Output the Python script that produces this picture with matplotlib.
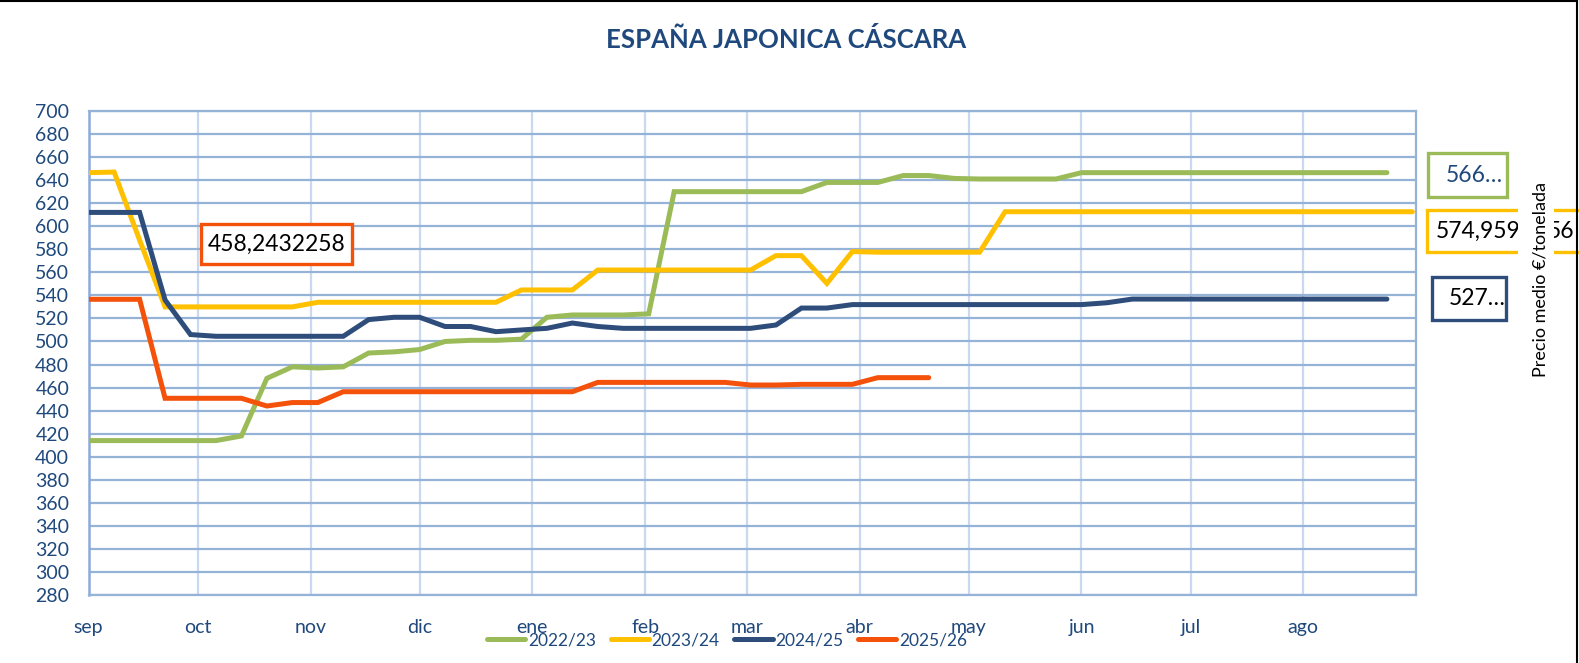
import matplotlib
matplotlib.use("Agg")
import matplotlib.pyplot as plt
import matplotlib.patches as mpatches
from matplotlib.lines import Line2D
import pandas as pd

# ---------------- data ----------------
title = "ESPAÑA JAPONICA CÁSCARA"
ylabel = "Precio medio €/tonelada"
series_names = ["2022/23", "2023/24", "2024/25", "2025/26"]
month_labels = ["sep", "oct", "nov", "dic", "ene", "feb", "mar", "abr", "may", "jun", "jul", "ago"]

v_2022_23 = [414, 414, 414, 414, 414, 414, 418, 468, 478, 477, 478, 490, 491, 493, 500, 501,
             501, 502, 521, 523, 523, 523, 524, 630, 630, 630, 630, 630, 630, 638, 638, 638,
             644, 644, 641.5, 641, 641, 641, 641, 646.5, 646.5, 646.5, 646.5, 646.5, 646.5,
             646.5, 646.5, 646.5, 646.5, 646.5, 646.5, 646.5]
v_2023_24 = [646.5, 647, 588, 530, 530, 530, 530, 530, 530, 534, 534, 534, 534, 534, 534, 534,
             534, 544.7, 544.7, 544.7, 562, 562, 562, 562, 562, 562, 562, 574.5, 574.5, 550.4,
             578, 577.5, 577.5, 577.5, 577.5, 577.5, 612.6, 612.6, 612.6, 612.6, 612.6, 612.6,
             612.6, 612.6, 612.6, 612.6, 612.6, 612.6, 612.6, 612.6, 612.6, 612.6, 612.6]
v_2024_25 = [612, 612, 612, 536, 506, 504.5, 504.5, 504.5, 504.5, 504.5, 504.5, 519, 521, 521,
             513, 513, 508.5, 510, 511.4, 516, 513, 511.4, 511.4, 511.4, 511.4, 511.4, 511.4,
             514.3, 529, 529, 532, 532, 532, 532, 532, 532, 532, 532, 532, 532, 533.6, 536.8,
             536.8, 536.8, 536.8, 536.8, 536.8, 536.8, 536.8, 536.8, 536.8, 536.8]
v_2025_26 = [536.6, 536.6, 536.6, 450.7, 450.7, 450.7, 450.7, 444, 447, 447, 456.4, 456.4,
             456.4, 456.4, 456.4, 456.4, 456.4, 456.4, 456.4, 456.4, 464.5, 464.5, 464.5, 464.5,
             464.5, 464.5, 462.2, 462.2, 462.8, 462.8, 462.8, 468.6, 468.6, 468.6]

label_2025_26 = "458,2432258"
label_2022_23 = "566…"
label_2023_24_visible = "574,959"
label_2023_24_tail = "56"
label_2024_25 = "527…"

season_start = "2022-09-01"
season_end = "2023-09-01"

# ---------------- style ----------------
colors = ["#9BBB59", "#FFC000", "#2E4D7B", "#F4510B"]
txt_blue = "#1F497D"
plt.rcParams["font.family"] = ["Lato", "DejaVu Sans"]

W, H = 1579, 663
fig = plt.figure(figsize=(W / 100, H / 100), dpi=100)
ax = fig.add_axes([88.7 / W, 1 - 595 / H, (1416 - 88.7) / W, (595 - 111) / H])

start = pd.Timestamp(season_start)
all_series = [v_2022_23, v_2023_24, v_2024_25, v_2025_26]
lines = []
for vals, col, name in zip(all_series, colors, series_names):
    x = pd.date_range(start, periods=len(vals), freq="7D")
    ln, = ax.plot(x, vals, color=col, lw=3.6, solid_capstyle="round",
                  solid_joinstyle="miter", label=name, zorder=3)
    lines.append(ln)

ax.set_xlim(pd.Timestamp(season_start), pd.Timestamp(season_end))
ax.set_ylim(280, 700)
ax.set_yticks(range(280, 701, 20))
month_starts = pd.date_range(season_start, periods=len(month_labels), freq="MS")
ax.set_xticks(month_starts)
ax.set_xticklabels(month_labels)

ax.tick_params(axis="y", length=0, pad=14, labelsize=14, labelcolor=txt_blue)
ax.tick_params(axis="x", length=0, pad=17, labelsize=14, labelcolor=txt_blue)

ax.grid(axis="y", color="#95B3D7", lw=1.6, zorder=1)
ax.grid(axis="x", color="#C9DAF0", lw=1.6, zorder=1)
for side in ["top", "bottom", "right"]:
    ax.spines[side].set_color("#95B3D7")
    ax.spines[side].set_linewidth(1.6)
ax.spines["left"].set_color("#8EA9DB")
ax.spines["left"].set_linewidth(1.8)

# title
fig.text(786 / W, 1 - 40 / H, title, ha="center", va="center", fontsize=18.5,
         fontweight="bold", color=txt_blue)

# legend
fig.legend(handles=lines, labels=series_names, loc="center",
           bbox_to_anchor=(727 / W, 1 - 640 / H), ncol=4, frameon=False,
           fontsize=12.5, handlelength=2.2, handletextpad=0.15, columnspacing=0.85,
           labelcolor=txt_blue)


def box(x0, y0, x1, y1, ec):
    r = mpatches.Rectangle((x0 / W, 1 - y1 / H), (x1 - x0) / W, (y1 - y0) / H,
                           transform=fig.transFigure, facecolor="white", edgecolor=ec,
                           lw=2.4, zorder=5)
    fig.add_artist(r)


# data label boxes
box(201, 224, 352, 264, colors[3])
fig.text(208 / W, 1 - 244 / H, label_2025_26, ha="left", va="center", fontsize=16.5,
         color="black", zorder=6)

box(1428, 153, 1507, 197, colors[0])
fig.text(1446 / W, 1 - 176 / H, label_2022_23, ha="left", va="center", fontsize=16.5,
         color=txt_blue, zorder=6)

box(1427, 210, 1600, 252, colors[1])
fig.text(1436 / W, 1 - 231 / H, label_2023_24_visible, ha="left", va="center", fontsize=16.5,
         color="black", zorder=6)
fig.text(1574 / W, 1 - 231 / H, label_2023_24_tail, ha="right", va="center", fontsize=16.5,
         color="black", zorder=6)

box(1432, 277, 1506, 320, colors[2])
fig.text(1449 / W, 1 - 299 / H, label_2024_25, ha="left", va="center", fontsize=16.5,
         color="black", zorder=6)

# secondary axis title with white background
fig.add_artist(mpatches.Rectangle((1518 / W, 1 - 384 / H), 36 / W, 210 / H,
                                  transform=fig.transFigure, facecolor="white",
                                  edgecolor="none", zorder=7))
fig.text(1540 / W, 1 - 279 / H, ylabel, rotation=90, ha="center", va="center",
         fontsize=13, color="black", zorder=8)

# chart border (top and right)
fig.add_artist(Line2D([0, 1577 / W], [1 - 0.8 / H, 1 - 0.8 / H], transform=fig.transFigure,
                      color="black", lw=1.5, zorder=9))
fig.add_artist(Line2D([1577 / W, 1577 / W], [0, 1], transform=fig.transFigure,
                      color="black", lw=1.5, zorder=9))

fig.savefig("out.png", dpi=100)
